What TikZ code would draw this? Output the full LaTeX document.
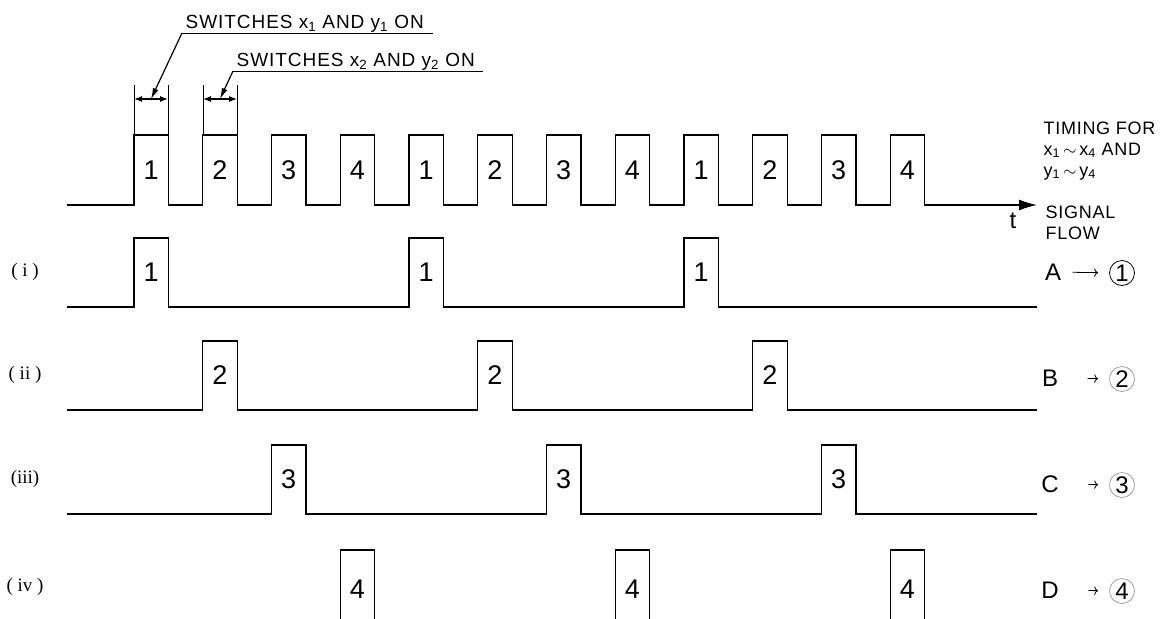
\documentclass[tikz,border=0pt]{standalone}
\usepackage{fontspec}
\setmainfont{Liberation Sans}
\newfontfamily\rowfont{Liberation Serif}
\usetikzlibrary{arrows.meta}
\begin{document}
\begin{tikzpicture}[x=1pt, y=-1pt, line width=1.3pt,
    num/.style={font=\fontsize{27}{27}\selectfont, inner sep=0pt},
    lbl/.style={font=\addfontfeature{LetterSpace=5}\fontsize{19}{21}\selectfont, inner sep=0pt},
    side/.style={font=\addfontfeature{LetterSpace=4}\fontsize{18}{21}\selectfont, inner sep=0pt},
    big/.style={font=\fontsize{24}{24}\selectfont, inner sep=0pt},
    rowlbl/.style={font=\rowfont\fontsize{19}{19}\selectfont, inner sep=0pt},
    ring/.style={draw, circle, line width=0.8pt, inner sep=0pt, minimum size=25pt, font=\fontsize{24}{24}\selectfont},
    faint/.style={ring, draw=black!45, line width=0.6pt}]
    \useasboundingbox (0,0) rectangle (1163,619);

    % timing for x1~x4 and y1~y4
    \draw[-{Latex[length=18pt,width=11pt]}] (67,205)
        \foreach \k in {0,...,11} { -- ({134+68.75*\k},205) -- ++(0,-70) -- ++(34.4,0) -- ++(0,70) }
        -- (1037,205);
    \foreach \k in {0,...,11} {
        \pgfmathtruncatemacro\n{mod(\k,4)+1}
        \node[num] (top\k) at ({151.2+68.75*\k},170) {\n};
    }
    \node[big] (t) at (1013,221) {t};

    % rows (i) to (iii)
    \foreach \r/\yl/\tag in {1/307/{( i )}, 2/410/{( ii )}, 3/514/{(iii)}} {
        \draw (67,\yl)
            \foreach \k in {\r-1,\r+3,\r+7} { -- ({134+68.75*(\k)},\yl) -- ++(0,-69) -- ++(34.4,0) -- ++(0,69) }
            -- (1037,\yl);
        \foreach \k in {\r-1,\r+3,\r+7}
            \node[num] at ({151.2+68.75*(\k)},{\yl-35}) {\r};
        \node[rowlbl] (row\r) at (25,{\yl-35}) {\tag};
    }

    % row (iv), cut off at the bottom
    \foreach \k in {3,7,11} {
        \draw ({134+68.75*\k},619) -- ++(0,-69) -- ++(34.4,0) -- ++(0,69);
        \node[num] at ({151.2+68.75*\k},589) {4};
    }
    \node[rowlbl] (row4) at (25,587) {( iv )};

    % switch annotations
    \foreach \a in {134,168,203,237}
        \draw[line width=1pt] (\a,85) -- (\a,135);
    \draw[line width=1.2pt, {Latex[length=8pt,width=6pt]}-{Latex[length=8pt,width=6pt]}] (134,99) -- (168,99);
    \draw[line width=1.2pt, {Latex[length=8pt,width=6pt]}-{Latex[length=8pt,width=6pt]}] (203,99) -- (237,99);

    \node[lbl, anchor=base west] (sw1) at (185,28) {SWITCHES x\textsubscript{1} AND y\textsubscript{1} ON};
    \node[lbl, anchor=base west] (sw2) at (236,66) {SWITCHES x\textsubscript{2} AND y\textsubscript{2} ON};
    \coordinate (u1) at (182,33);
    \coordinate (e1) at (433,33);
    \coordinate (d1) at (151,99);
    \coordinate (u2) at (233,71);
    \coordinate (e2) at (483,71);
    \coordinate (d2) at (220,99);
    \draw[line width=1pt] (e1) -- (u1);
    \draw[line width=1.2pt, -{Latex[length=11pt,width=6pt]}] (u1) -- (d1);
    \draw[line width=1pt] (e2) -- (u2);
    \draw[line width=1.2pt, -{Latex[length=11pt,width=6pt]}] (u2) -- (d2);

    % right column
    \node[side, anchor=north west, align=left] (timing) at (1043,121)
        {TIMING FOR\\x\textsubscript{1}$\,\sim\,$x\textsubscript{4} AND\\y\textsubscript{1}$\,\sim\,$y\textsubscript{4}};
    \node[side, anchor=north west, align=left] (flow) at (1045,205) {SIGNAL\\FLOW};

    \node[big] (srcA) at (1053,272) {A};
    \node[ring] (dstA) at (1122,273) {1};
    \node[big] (srcB) at (1050,378) {B};
    \node[faint] (dstB) at (1122,379) {2};
    \node[big] (srcC) at (1050,484) {C};
    \node[faint] (dstC) at (1122,485) {3};
    \node[big] (srcD) at (1050,590) {D};
    \node[faint] (dstD) at (1122,591) {4};
    \draw[line width=0.8pt, -{To[length=4pt]}, shorten <=11pt, shorten >=11pt] (srcA) -- (dstA);
    \foreach \s in {B,C,D}
        \draw[line width=0.8pt, -{To[length=4pt]}, shorten <=29pt, shorten >=11pt] (src\s) -- (dst\s);
\end{tikzpicture}
\end{document}
